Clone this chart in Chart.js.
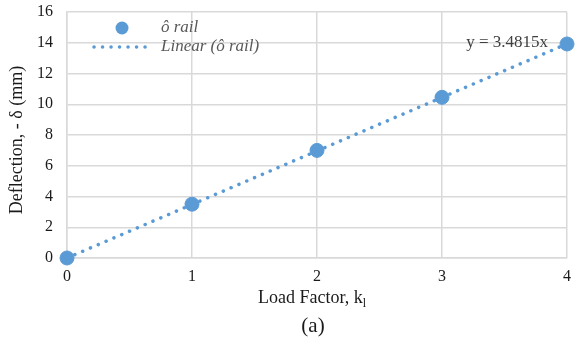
<!DOCTYPE html>
<html>
<head>
<meta charset="utf-8">
<script src="https://cdn.jsdelivr.net/npm/chart.js@4/dist/chart.umd.min.js"></script>
<style>
  html, body { margin: 0; padding: 0; background: #fff; }
  #wrap { width: 580px; height: 341px; }
</style>
</head>
<body>
<div id="wrap"><canvas id="chart"></canvas></div>
<script>
const loadFactor = [0, 1, 2, 3, 4]
const deflection = [0, 3.5, 7.0, 10.45, 13.92]
const trendX = [0, 4]
const trendY = [0, 13.926]
const equationText = 'y = 3.4815x'
const seriesLabel = 'ô rail'
const trendLabel = 'Linear (ô rail)'

const blue = '#5b9bd5'
const serif = '"Liberation Serif", "Times New Roman", serif'

const overlay = {
  id: 'overlay',
  afterDraw(chart) {
    const ctx = chart.ctx
    const xs = chart.scales.x
    ctx.save()

    // legend
    ctx.fillStyle = blue
    ctx.beginPath()
    ctx.arc(122, 28, 6.5, 0, Math.PI * 2)
    ctx.fill()
    ctx.strokeStyle = blue
    ctx.lineWidth = 3.5
    ctx.lineCap = 'round'
    ctx.setLineDash([0.1, 8.4])
    ctx.beginPath()
    ctx.moveTo(94, 47)
    ctx.lineTo(152, 47)
    ctx.stroke()
    ctx.setLineDash([])
    ctx.fillStyle = '#595959'
    ctx.font = 'italic 17px ' + serif
    ctx.textBaseline = 'middle'
    ctx.textAlign = 'left'
    ctx.fillText(seriesLabel, 161, 28)
    ctx.fillText(trendLabel, 161, 47)

    // trendline equation
    ctx.fillStyle = '#404040'
    ctx.font = '17px ' + serif
    ctx.textAlign = 'right'
    ctx.fillText(equationText, xs.getPixelForValue(4) - 19, 43)

    // y axis title
    ctx.fillStyle = '#1a1a1a'
    ctx.font = '18px ' + serif
    ctx.textAlign = 'center'
    ctx.save()
    ctx.translate(17, 140)
    ctx.rotate(-Math.PI / 2)
    ctx.fillText('Deflection, - δ (mm)', 0, 0)
    ctx.restore()

    // x axis title with subscript
    const main = 'Load Factor, k'
    ctx.font = '18px ' + serif
    const w1 = ctx.measureText(main).width
    ctx.font = '12px ' + serif
    const w2 = ctx.measureText('l').width
    const cx = 312
    let sx = cx - (w1 + w2) / 2
    ctx.textAlign = 'left'
    ctx.font = '18px ' + serif
    ctx.fillText(main, sx, 298)
    ctx.font = '12px ' + serif
    ctx.fillText('l', sx + w1, 304)

    // panel label
    ctx.font = '21px ' + serif
    ctx.textAlign = 'center'
    ctx.fillText('(a)', 313, 326)
    ctx.restore()
  }
}

new Chart(document.getElementById('chart'), {
  type: 'scatter',
  data: {
    datasets: [
      {
        label: seriesLabel,
        data: loadFactor.map((x, i) => ({ x: x, y: deflection[i] })),
        backgroundColor: blue,
        borderColor: blue,
        pointRadius: 7,
        pointHoverRadius: 7,
        clip: false,
        order: 1,
      },
      {
        label: trendLabel,
        type: 'line',
        data: trendX.map((x, i) => ({ x: x, y: trendY[i] })),
        borderColor: blue,
        borderWidth: 3.5,
        borderDash: [0.1, 8.4],
        borderCapStyle: 'round',
        pointRadius: 0,
        fill: false,
        order: 2,
      },
    ],
  },
  options: {
    responsive: true,
    maintainAspectRatio: false,
    animation: false,
    layout: { autoPadding: false, padding: { top: 12, right: 13, left: 0, bottom: 0 } },
    plugins: {
      legend: { display: false },
      tooltip: { enabled: false },
    },
    scales: {
      x: {
        type: 'linear',
        min: 0,
        max: 4,
        afterFit: (scale) => {
          scale.height = 83
          scale.paddingLeft = 0
          scale.paddingRight = 0
        },
        ticks: {
          stepSize: 1,
          padding: 9,
          color: '#1a1a1a',
          font: { family: serif, size: 16 },
        },
        grid: { color: '#d9d9d9', lineWidth: 1.5, drawTicks: false },
        border: { color: '#d9d9d9', width: 1.5 },
      },
      y: {
        min: 0,
        max: 16,
        afterFit: (scale) => {
          scale.width = 67
          scale.paddingTop = 0
          scale.paddingBottom = 0
        },
        ticks: {
          stepSize: 2,
          padding: 14,
          color: '#1a1a1a',
          font: { family: serif, size: 16 },
        },
        grid: { color: '#d9d9d9', lineWidth: 1.5, drawTicks: false },
        border: { color: '#d9d9d9', width: 1.5 },
      },
    },
  },
  plugins: [overlay],
})
</script>
</body>
</html>
